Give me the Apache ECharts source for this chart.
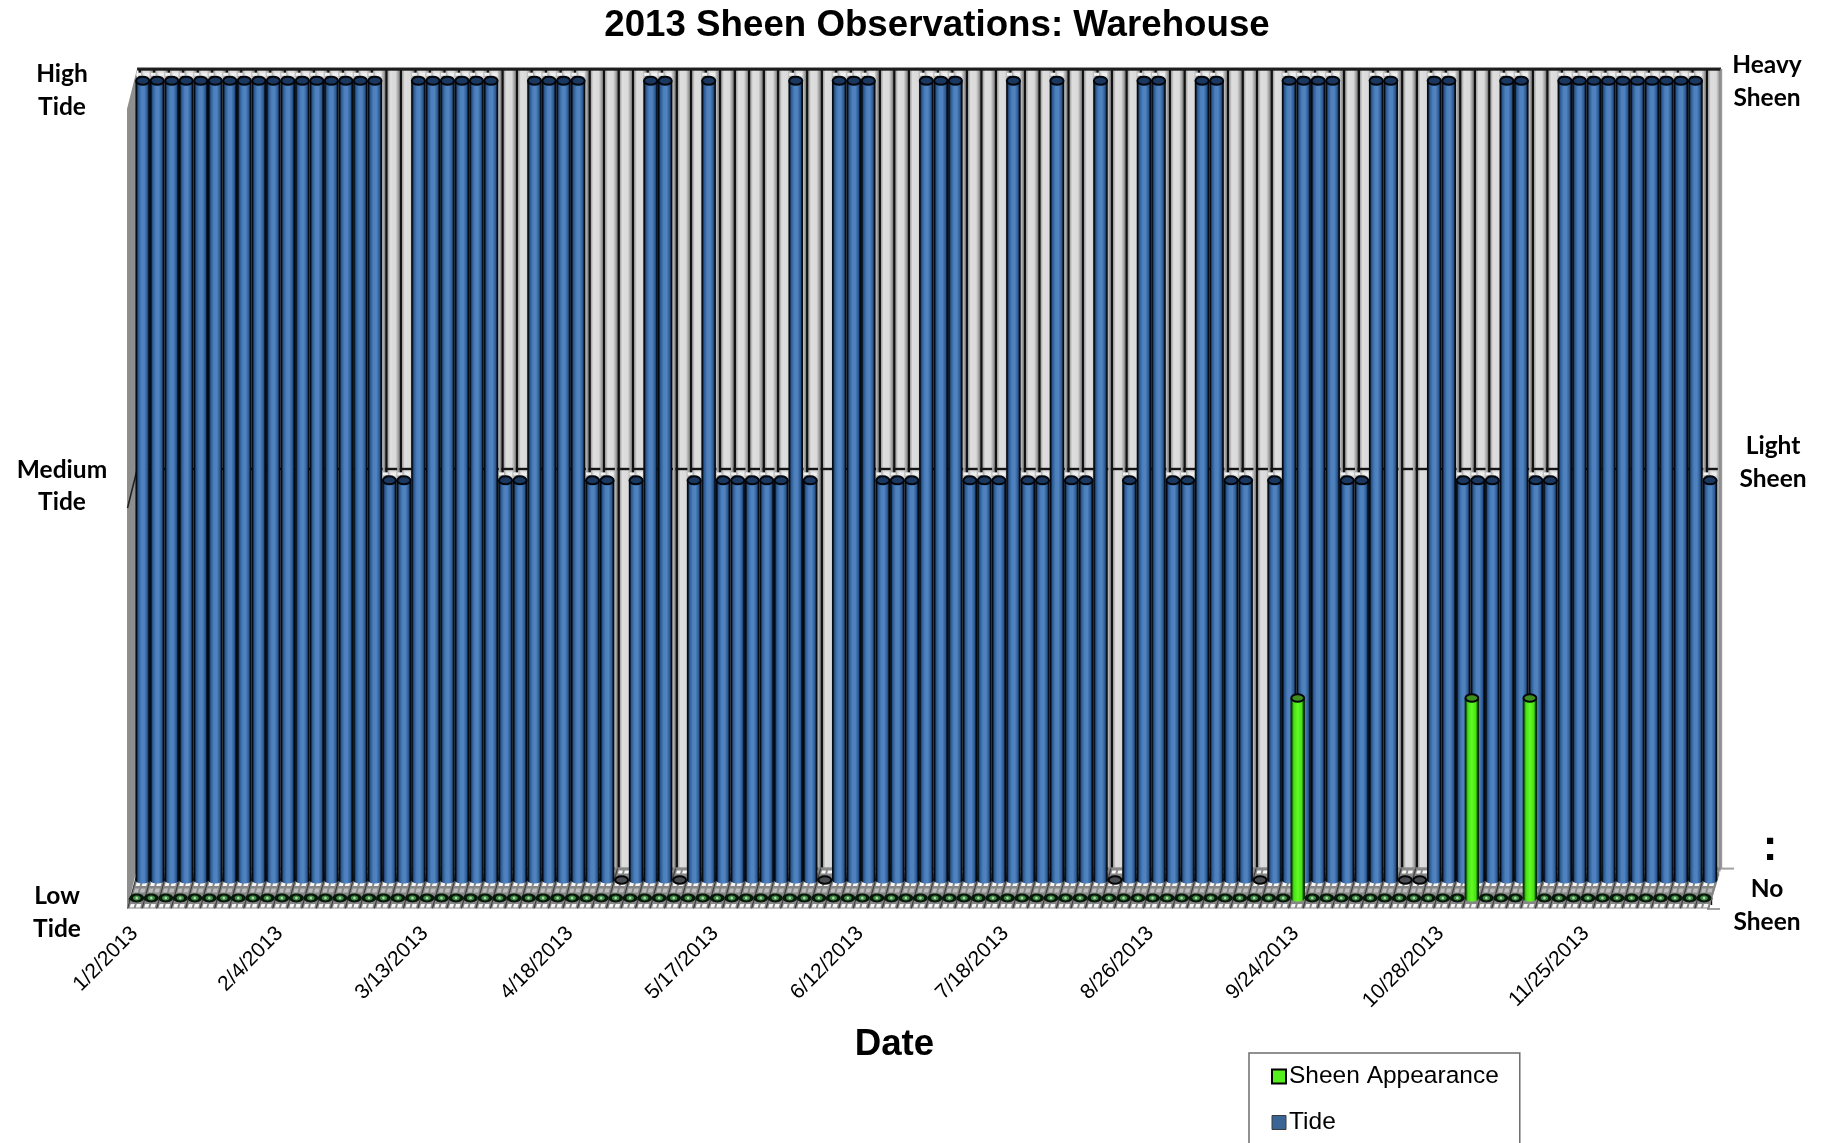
<!DOCTYPE html>
<html>
<head>
<meta charset="utf-8">
<title>2013 Sheen Observations: Warehouse</title>
<script src="https://cdn.jsdelivr.net/npm/echarts@6/dist/echarts.min.js"></script>
<style>
  html, body { margin: 0; padding: 0; background: #fff; }
  #chart { width: 1828px; height: 1143px; }
</style>
</head>
<body>
<div id="chart"></div>
<script>
// Tide level per observation: 0 low, 1 medium, 2 high
const tideLevels = [
  2,2,2,2,2,2,2,2,2,2,2,2,2,2,2,2,2,1,1,2,
  2,2,2,2,2,1,1,2,2,2,2,1,1,0,1,2,2,0,1,2,
  1,1,1,1,1,2,1,0,2,2,2,1,1,1,2,2,2,1,1,1,
  2,1,1,2,1,1,2,0,1,2,2,1,1,2,2,1,1,0,1,2,
  2,2,2,1,1,2,2,0,0,2,2,1,1,1,2,2,1,1,2,2,
  2,2,2,2,2,2,2,2,1
];
// Sheen appearance per observation
const sheenLevels = [
  0,0,0,0,0,0,0,0,0,0,0,0,0,0,0,0,0,0,0,0,
  0,0,0,0,0,0,0,0,0,0,0,0,0,0,0,0,0,0,0,0,
  0,0,0,0,0,0,0,0,0,0,0,0,0,0,0,0,0,0,0,0,
  0,0,0,0,0,0,0,0,0,0,0,0,0,0,0,0,0,0,0,0,
  0.5,0,0,0,0,0,0,0,0,0,0,0,0.5,0,0,0,0.5,0,0,0,
  0,0,0,0,0,0,0,0,0
];
// Every tenth observation carries a date label
const dateLabels = ['1/2/2013','2/4/2013','3/13/2013','4/18/2013','5/17/2013','6/12/2013',
  '7/18/2013','8/26/2013','9/24/2013','10/28/2013','11/25/2013'];
const observations = tideLevels.map((_, i) => (i % 10 === 0 ? dateLabels[i / 10] : 'obs ' + (i + 1)));
const tideLabels = [['High', 'Tide'], ['Medium', 'Tide'], ['Low', 'Tide']];
const sheenLabels = [['Heavy', 'Sheen'], ['Light', 'Sheen'], ['No', 'Sheen']];
const chartTitle = '2013 Sheen Observations: Warehouse';
const seriesNames = ['Sheen Appearance', 'Tide'];

const { LinearGradient } = echarts.graphic;
const hGrad = stops => new LinearGradient(0, 0, 1, 0, stops.map(([offset, color]) => ({ offset, color })));

const blueBody = hGrad([[0, '#02050a'], [0.08, '#050d18'], [0.18, '#2a5890'], [0.4, '#4c80bd'],
  [0.6, '#5083c0'], [0.82, '#2a5890'], [0.92, '#050d18'], [1, '#02050a']]);
const greenBody = hGrad([[0, '#061a02'], [0.1, '#0f4a04'], [0.22, '#46de15'], [0.5, '#62fb22'],
  [0.78, '#48e216'], [0.9, '#0f4a04'], [1, '#061a02']]);
const wallBody = hGrad([[0, '#0c0c0c'], [0.14, '#141414'], [0.18, '#a0a0a0'], [0.34, '#dedede'],
  [0.72, '#dadada'], [0.88, '#a9a9a9'], [1, '#7a7a7a']]);

function cylinder(x, top, bottom, halfW, body, capFill, capRx, capRy) {
  return [
    { type: 'ellipse', shape: { cx: x, cy: bottom, rx: halfW, ry: 3.5 }, style: { fill: body } },
    { type: 'rect', shape: { x: x - halfW, y: top, width: halfW * 2, height: bottom - top }, style: { fill: body } },
    { type: 'ellipse', shape: { cx: x, cy: top, rx: capRx, ry: capRy },
      style: { fill: capFill, stroke: '#03070d', lineWidth: 2 } }
  ];
}

// Back wall columns with their grid dashes
function renderWall(params, api) {
  const i = api.value(0);
  const [x, top] = api.coord([i, 2]);
  const [, mid] = api.coord([i, 1]);
  const [, bottom] = api.coord([i, 0]);
  const w = api.size([1, 0])[0];
  const left = x - w / 2;
  const kids = [{ type: 'rect', shape: { x: left, y: top, width: w, height: bottom - top }, style: { fill: wallBody } }];
  kids.push({ type: 'rect', shape: { x: left, y: bottom + 1.5, width: w, height: 4 }, style: { fill: '#f4f4f4' } });
  kids.push({ type: 'rect', shape: { x: left + 5, y: bottom + 1.5, width: 3, height: 4 }, style: { fill: '#8c8c8c' } });
  [[top, '#1a1a1a', w], [mid, '#141414', w - 2.5], [bottom, '#8a8a8a', w]].forEach(([y, fill, len]) => {
    kids.push({ type: 'rect', shape: { x: left, y: y - 1.2, width: len, height: 2.4 }, style: { fill } });
  });
  return { type: 'group', children: kids };
}

// Floor tile under one observation, sheared from the wall foot to the front edge
function renderFloor(params, api) {
  const i = api.value(0);
  const [x, y0] = api.coord([i, 0]);
  const w = api.size([1, 0])[0];
  const left = x - w / 2;
  const depth = 40;
  const shear = -11 / depth;
  const quad = (a, b, y1, y2, fill) => ({
    type: 'polygon',
    shape: { points: [
      [left + a + (y1 - y0) * shear, y1], [left + b + (y1 - y0) * shear, y1],
      [left + b + (y2 - y0) * shear, y2], [left + a + (y2 - y0) * shear, y2]
    ] },
    style: { fill }
  });
  const kids = [quad(0, w, y0, y0 + depth, '#868686')];
  [[2, 5, '#f7f7f7'], [13, 17.5, '#f7f7f7'], [20, 24, '#bcbcbc'], [35.5, 39, '#f7f7f7']].forEach(([a, b, fill]) => {
    kids.push(quad(2, 6, y0 + a, y0 + b, fill));
    kids.push(quad(8, 12.5, y0 + a, y0 + b, fill));
  });
  kids.push(quad(-0.5, 0.7, y0, y0 + depth, '#3c3c3c'));
  return { type: 'group', children: kids };
}

function renderTide(params, api) {
  const i = api.value(0);
  const v = api.value(1);
  const [x, top] = api.coord([i, v]);
  const [, bottom] = api.coord([i, 0]);
  const w = api.size([1, 0])[0];
  const halfW = w / 2;
  if (v === 0) {
    return { type: 'group', children: [
      { type: 'ellipse', shape: { cx: x, cy: top, rx: 6.4, ry: 3.8 },
        style: { fill: '#4a4d52', stroke: '#050505', lineWidth: 2 } }
    ] };
  }
  const flecks = [-6.5, 1.5].map(dx => ({
    type: 'rect', shape: { x: x + dx, y: top - 8, width: 5, height: 3.2 }, style: { fill: '#f0f0f0' }
  }));
  return { type: 'group', children: [...flecks, ...cylinder(x, top, bottom, halfW, blueBody, '#1b3860', 6.6, 4)] };
}

function renderSheen(params, api) {
  const i = api.value(0);
  const v = api.value(1);
  const [x, top] = api.coord([i, v]);
  const [, bottom] = api.coord([i, 0]);
  if (v === 0) {
    return { type: 'group', children: [
      { type: 'ellipse', shape: { cx: x, cy: bottom, rx: 7.4, ry: 4.4 }, style: { fill: '#07170a' } },
      { type: 'ellipse', shape: { cx: x, cy: bottom, rx: 3.8, ry: 2.5 }, style: { fill: '#3f8a42' } },
      { type: 'ellipse', shape: { cx: x, cy: bottom, rx: 1.3, ry: 1.3 }, style: { fill: '#b4dab4' } }
    ] };
  }
  return { type: 'group', children: cylinder(x, top, bottom, 7.2, greenBody, '#3f8f1c', 6.4, 3.8) };
}

function stackedText(lines, cx, ys, fontSize, fontFamily) {
  return lines.map((line, k) => ({
    type: 'text', x: cx, y: ys[k], z: 10,
    style: { text: line, fontFamily: fontFamily || 'Lato', fontWeight: 'bold', fontSize, fill: '#000',
      align: 'center', verticalAlign: 'middle' }
  }));
}

const seq = tideLevels.map((_, i) => [i, 0]);
const hiddenX = gridIndex => ({ type: 'category', gridIndex, data: observations, show: false, boundaryGap: true });
const hiddenY = gridIndex => ({ type: 'value', gridIndex, min: 0, max: 2, show: false, splitLine: { show: false } });

const option = {
  animation: false,
  backgroundColor: '#ffffff',
  title: {
    text: chartTitle, left: 932, top: 2, textAlign: 'center',
    textStyle: { fontFamily: 'Liberation Sans', fontWeight: 'bold', fontSize: 36.7, color: '#000' }
  },
  legend: {
    left: 1249, top: 1053, height: 300, orient: 'vertical', itemGap: 21, itemWidth: 14, itemHeight: 14,
    padding: [11, 21, 60, 22], borderColor: '#6e6e6e', borderWidth: 1.5, icon: 'rect',
    selectedMode: false,
    textStyle: { fontFamily: 'Liberation Sans', fontSize: 24.5, color: '#000', padding: [0, 0, 0, -2] },
    data: [
      { name: seriesNames[0], itemStyle: { color: '#55ee1e', borderColor: '#000', borderWidth: 2 } },
      { name: seriesNames[1], itemStyle: { color: '#3a6496', borderColor: '#3b3b3b', borderWidth: 1 } }
    ]
  },
  grid: [
    { left: 138.5, width: 1581.8, top: 69.5, height: 799 },
    { left: 135.45, width: 1581.8, top: 80.7, height: 799.3 },
    { left: 129.5, width: 1581.8, top: 98, height: 800 }
  ],
  xAxis: [
    hiddenX(0),
    hiddenX(1),
    {
      type: 'category', gridIndex: 2, data: observations, boundaryGap: true, offset: 11,
      axisLine: { show: true, lineStyle: { color: '#8a8a8a', width: 3 } },
      axisTick: { show: true, interval: 0, length: 7, lineStyle: { color: '#111', width: 1.4 } },
      axisLabel: {
        interval: 9, rotate: 45, margin: 19, color: '#000', padding: [0, 3, 0, 0],
        fontFamily: 'Liberation Sans', fontSize: 21
      },
      name: 'Date', nameLocation: 'middle', nameGap: 117,
      nameTextStyle: { fontFamily: 'Liberation Sans', fontWeight: 'bold', fontSize: 36.7, color: '#000', padding: [0, 52, 0, 0] }
    }
  ],
  yAxis: [hiddenY(0), hiddenY(1), hiddenY(2)],
  graphic: [
    { type: 'polygon', z: 0, shape: { points: [[137, 69], [127, 109], [127, 909], [137, 869]] }, style: { fill: '#8e8e8e' } },
    { type: 'line', z: 0, shape: { x1: 127.5, y1: 508, x2: 137, y2: 470 }, style: { stroke: '#222', lineWidth: 1.6 } },
    { type: 'line', z: 0, shape: { x1: 137, y1: 69, x2: 1721, y2: 69 }, style: { stroke: '#2e2e2e', lineWidth: 3 } },
    { type: 'line', z: 0, shape: { x1: 1721, y1: 69, x2: 1721, y2: 869 }, style: { stroke: '#9a9a9a', lineWidth: 2.4 } },
    { type: 'line', z: 0, shape: { x1: 1720, y1: 868.6, x2: 1734, y2: 868.6 }, style: { stroke: '#a0a0a0', lineWidth: 2 } },
    { type: 'line', z: 0, shape: { x1: 1707, y1: 909, x2: 1720, y2: 909 }, style: { stroke: '#a0a0a0', lineWidth: 2 } },
    { type: 'line', z: 0, shape: { x1: 1720, y1: 869, x2: 1708, y2: 909 }, style: { stroke: '#8a8a8a', lineWidth: 2 } },
    ...stackedText(tideLabels[0], 62, [74, 107], 24.5),
    ...stackedText(tideLabels[1], 62, [470, 502], 24.5),
    ...stackedText(tideLabels[2], 57, [896, 929], 24.5),
    ...stackedText(sheenLabels[0], 1767, [65, 98], 24.5),
    ...stackedText(sheenLabels[1], 1773, [446, 479], 24.5),
    ...stackedText([':'], 1770, [848], 44, 'Liberation Sans'),
    ...stackedText(sheenLabels[2], 1767, [889, 922], 24.5)
  ],
  series: [
    { name: 'Wall', type: 'custom', xAxisIndex: 0, yAxisIndex: 0, z: 1, clip: false, silent: true,
      data: seq, encode: { x: 0, y: 1 }, renderItem: renderWall },
    { name: 'Floor', type: 'custom', xAxisIndex: 0, yAxisIndex: 0, z: 1, clip: false, silent: true,
      data: seq, encode: { x: 0, y: 1 }, renderItem: renderFloor },
    { name: seriesNames[1], type: 'custom', xAxisIndex: 1, yAxisIndex: 1, z: 3, clip: false,
      data: tideLevels.map((v, i) => [i, v]), encode: { x: 0, y: 1 }, renderItem: renderTide },
    { name: seriesNames[0], type: 'custom', xAxisIndex: 2, yAxisIndex: 2, z: 4, clip: false,
      data: sheenLevels.map((v, i) => [i, v]), encode: { x: 0, y: 1 }, renderItem: renderSheen }
  ]
};

const chart = echarts.init(document.getElementById('chart'), null, { renderer: 'canvas', width: 1828, height: 1143 });
chart.setOption(option);
</script>
</body>
</html>
